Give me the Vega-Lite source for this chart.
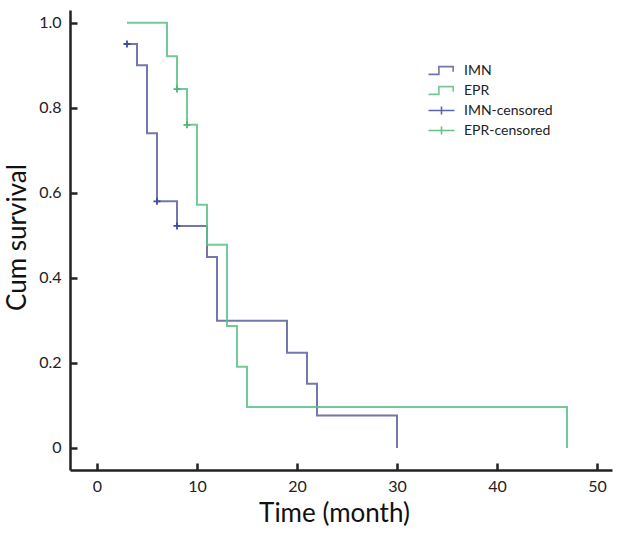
{
  "$schema": "https://vega.github.io/schema/vega-lite/v6.json",
  "width": 542,
  "height": 460,
  "autosize": "none",
  "padding": {"left": 70, "top": 10, "right": 10, "bottom": 71},
  "background": "white",
  "config": {
    "view": {"stroke": null},
    "font": "Lato",
    "axis": {
      "grid": false,
      "domainColor": "#222",
      "domainWidth": 2.5,
      "tickColor": "#222",
      "tickWidth": 2.5,
      "tickSize": -7,
      "labelFont": "Lato",
      "labelFontSize": 16,
      "labelColor": "#222",
      "titleFont": "Lato",
      "titleFontSize": 26,
      "titleFontWeight": "normal",
      "titleColor": "#111"
    },
    "legend": {
      "title": null,
      "orient": "none",
      "legendX": 364,
      "legendY": 53,
      "labelFont": "Lato",
      "labelFontSize": 14,
      "labelColor": "#222",
      "labelOffset": 15,
      "rowPadding": 5,
      "symbolStrokeWidth": 1.6,
      "symbolFillColor": "transparent",
      "symbolSize": 169
    }
  },
  "data": {
    "values": [
      {"key": "IMN", "time": 3, "surv": 0.95},
      {"key": "IMN", "time": 4, "surv": 0.90},
      {"key": "IMN", "time": 5, "surv": 0.74},
      {"key": "IMN", "time": 6, "surv": 0.58},
      {"key": "IMN", "time": 8, "surv": 0.522},
      {"key": "IMN", "time": 11, "surv": 0.449},
      {"key": "IMN", "time": 12, "surv": 0.299},
      {"key": "IMN", "time": 19, "surv": 0.224},
      {"key": "IMN", "time": 21, "surv": 0.151},
      {"key": "IMN", "time": 22, "surv": 0.076},
      {"key": "IMN", "time": 30, "surv": 0},
      {"key": "EPR", "time": 3, "surv": 1.0},
      {"key": "EPR", "time": 7, "surv": 0.921},
      {"key": "EPR", "time": 8, "surv": 0.844},
      {"key": "EPR", "time": 9, "surv": 0.76},
      {"key": "EPR", "time": 10, "surv": 0.572},
      {"key": "EPR", "time": 11, "surv": 0.478},
      {"key": "EPR", "time": 13, "surv": 0.287},
      {"key": "EPR", "time": 14, "surv": 0.191},
      {"key": "EPR", "time": 15, "surv": 0.096},
      {"key": "EPR", "time": 47, "surv": 0},
      {"key": "IMN-censored", "time": 3, "surv": 0.95},
      {"key": "IMN-censored", "time": 6, "surv": 0.58},
      {"key": "IMN-censored", "time": 8, "surv": 0.522},
      {"key": "EPR-censored", "time": 8, "surv": 0.844},
      {"key": "EPR-censored", "time": 9, "surv": 0.76}
    ]
  },
  "encoding": {
    "x": {
      "field": "time",
      "type": "quantitative",
      "scale": {"domain": [-2.7, 51.5], "nice": false, "zero": false},
      "axis": {"values": [0, 10, 20, 30, 40, 50], "title": "Time (month)", "labelPadding": 15, "titlePadding": 6, "titleX": 264}
    },
    "y": {
      "field": "surv",
      "type": "quantitative",
      "scale": {"domain": [-0.052, 1.03], "nice": false, "zero": false},
      "axis": {
        "values": [0, 0.2, 0.4, 0.6, 0.8, 1.0],
        "labelExpr": "datum.value == 0 ? '0' : format(datum.value, '.1f')",
        "title": "Cum survival",
        "labelPadding": 16,
        "titlePadding": 8,
        "titleY": 227
      }
    },
    "color": {
      "field": "key",
      "type": "nominal",
      "scale": {
        "domain": ["IMN", "EPR", "IMN-censored", "EPR-censored"],
        "range": ["#5b5f9c", "#5cbf86", "#3f4aa6", "#4fb57a"]
      }
    }
  },
  "layer": [
    {
      "transform": [{"filter": "datum.key == 'IMN' || datum.key == 'EPR'"}],
      "mark": {"type": "line", "interpolate": "step-after", "strokeWidth": 2, "opacity": 0.85}
    },
    {
      "transform": [{"filter": "datum.key == 'IMN-censored' || datum.key == 'EPR-censored'"}],
      "mark": {"type": "point", "filled": false, "strokeWidth": 1.8, "opacity": 1, "shape": "M-1,0L1,0M0,-1L0,1", "size": 49}
    },
    {
      "transform": [{"filter": "datum.key == 'IMN-censored' || datum.key == 'EPR-censored'"}],
      "mark": {"type": "point", "filled": false, "strokeWidth": 1.6, "opacity": 1, "size": 0},
      "encoding": {
        "shape": {
          "field": "key",
          "type": "nominal",
          "scale": {
            "domain": ["IMN", "EPR", "IMN-censored", "EPR-censored"],
            "range": ["M-2,0.6L-0.4,0.6L-0.4,-0.6L1.8,-0.6L1.8,0.2", "M-2,0.6L-0.4,0.6L-0.4,-0.6L1.8,-0.6L1.8,0.2", "M-2,0L2,0M0,-0.6L0,0.6", "M-2,0L2,0M0,-0.6L0,0.6"]
          }
        }
      }
    }
  ]
}
